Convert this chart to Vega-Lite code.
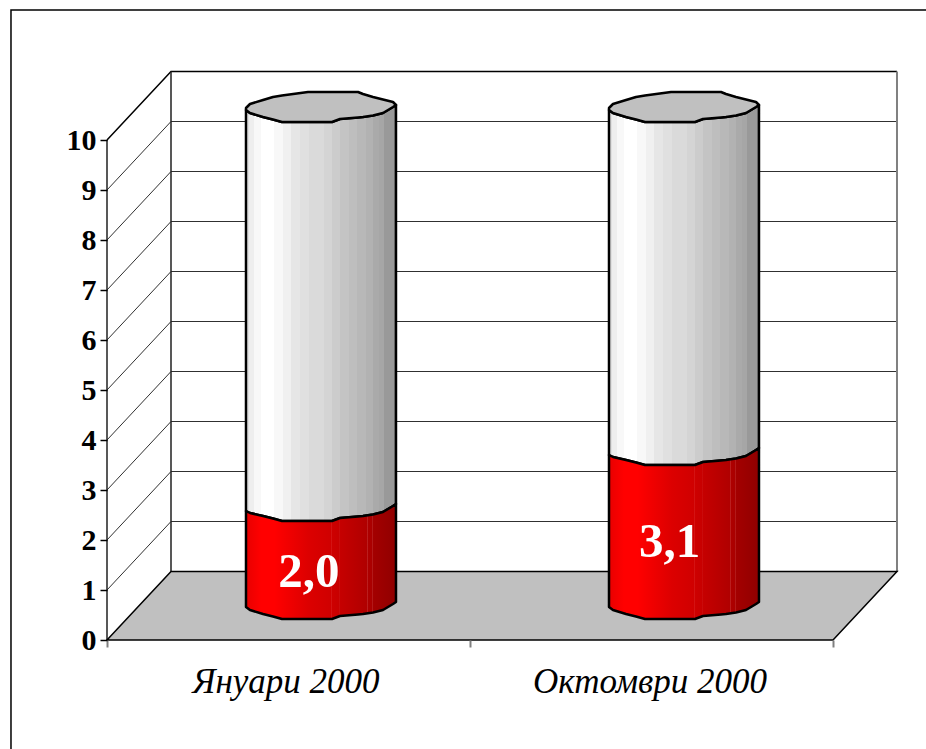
{"$schema":"https://vega.github.io/schema/vega-lite/v6.json","width":926,"height":749,"padding":0,"autosize":{"type":"none"},"background":"white","config":{"view":{"stroke":null}},
"datasets":{
"frame":[{"x":-0.2645,"y":-2.18},{"x":-0.2645,"y":12.6},{"x":2.2562,"y":12.6}],
"grid":[
{"k":1,"x":0,"y":1},{"k":1,"x":0.1763,"y":2.37},{"k":1,"x":2.1763,"y":2.37},
{"k":2,"x":0,"y":2},{"k":2,"x":0.1763,"y":3.37},{"k":2,"x":2.1763,"y":3.37},
{"k":3,"x":0,"y":3},{"k":3,"x":0.1763,"y":4.37},{"k":3,"x":2.1763,"y":4.37},
{"k":4,"x":0,"y":4},{"k":4,"x":0.1763,"y":5.37},{"k":4,"x":2.1763,"y":5.37},
{"k":5,"x":0,"y":5},{"k":5,"x":0.1763,"y":6.37},{"k":5,"x":2.1763,"y":6.37},
{"k":6,"x":0,"y":6},{"k":6,"x":0.1763,"y":7.37},{"k":6,"x":2.1763,"y":7.37},
{"k":7,"x":0,"y":7},{"k":7,"x":0.1763,"y":8.37},{"k":7,"x":2.1763,"y":8.37},
{"k":8,"x":0,"y":8},{"k":8,"x":0.1763,"y":9.37},{"k":8,"x":2.1763,"y":9.37},
{"k":9,"x":0,"y":9},{"k":9,"x":0.1763,"y":10.37},{"k":9,"x":2.1763,"y":10.37}],
"top":[{"x":0,"y":10},{"x":0.1763,"y":11.37},{"x":2.1763,"y":11.37}],
"verts":[{"k":"l","x":0,"y":0},{"k":"l","x":0,"y":10},{"k":"b","x":0.1763,"y":1.37},{"k":"b","x":0.1763,"y":11.37}],
"right":[{"x":2.1763,"y":1.37},{"x":2.1763,"y":11.37}],
"floor":[{"x":0,"y":0,"y2":0},{"x":0.1763,"y":1.37,"y2":0},{"x":2,"y":1.37,"y2":0},{"x":2.1763,"y":1.37,"y2":1.37}],
"red":[
{"c":"A","x":0.3829,"y":2.58,"y2":0.66},{"c":"A","x":0.3939,"y":2.54,"y2":0.6},{"c":"A","x":0.4298,"y":2.48,"y2":0.52},{"c":"A","x":0.4573,"y":2.43,"y2":0.47},{"c":"A","x":0.4821,"y":2.38,"y2":0.42},{"c":"A","x":0.5537,"y":2.38,"y2":0.42},{"c":"A","x":0.6198,"y":2.38,"y2":0.42},{"c":"A","x":0.6419,"y":2.44,"y2":0.48},{"c":"A","x":0.6915,"y":2.47,"y2":0.51},{"c":"A","x":0.7052,"y":2.48,"y2":0.52},{"c":"A","x":0.7328,"y":2.51,"y2":0.55},{"c":"A","x":0.7603,"y":2.56,"y2":0.6},{"c":"A","x":0.7879,"y":2.68,"y2":0.72},{"c":"A","x":0.7961,"y":2.72,"y2":0.76},
{"c":"B","x":1.3829,"y":3.7,"y2":0.66},{"c":"B","x":1.3939,"y":3.66,"y2":0.6},{"c":"B","x":1.4298,"y":3.6,"y2":0.52},{"c":"B","x":1.4573,"y":3.55,"y2":0.47},{"c":"B","x":1.4821,"y":3.5,"y2":0.42},{"c":"B","x":1.5537,"y":3.5,"y2":0.42},{"c":"B","x":1.6198,"y":3.5,"y2":0.42},{"c":"B","x":1.6419,"y":3.56,"y2":0.48},{"c":"B","x":1.6915,"y":3.59,"y2":0.51},{"c":"B","x":1.7052,"y":3.6,"y2":0.52},{"c":"B","x":1.7328,"y":3.63,"y2":0.55},{"c":"B","x":1.7603,"y":3.68,"y2":0.6},{"c":"B","x":1.7879,"y":3.8,"y2":0.72},{"c":"B","x":1.7961,"y":3.84,"y2":0.76}],
"white":[
{"c":"A","x":0.3829,"y":10.6,"y2":2.58},{"c":"A","x":0.3939,"y":10.54,"y2":2.54},{"c":"A","x":0.4298,"y":10.46,"y2":2.48},{"c":"A","x":0.4573,"y":10.41,"y2":2.43},{"c":"A","x":0.4821,"y":10.36,"y2":2.38},{"c":"A","x":0.5537,"y":10.36,"y2":2.38},{"c":"A","x":0.6198,"y":10.36,"y2":2.38},{"c":"A","x":0.6419,"y":10.42,"y2":2.44},{"c":"A","x":0.6915,"y":10.45,"y2":2.47},{"c":"A","x":0.7052,"y":10.46,"y2":2.48},{"c":"A","x":0.7328,"y":10.49,"y2":2.51},{"c":"A","x":0.7603,"y":10.54,"y2":2.56},{"c":"A","x":0.7879,"y":10.66,"y2":2.68},{"c":"A","x":0.7961,"y":10.7,"y2":2.72},
{"c":"B","x":1.3829,"y":10.6,"y2":3.7},{"c":"B","x":1.3939,"y":10.54,"y2":3.66},{"c":"B","x":1.4298,"y":10.46,"y2":3.6},{"c":"B","x":1.4573,"y":10.41,"y2":3.55},{"c":"B","x":1.4821,"y":10.36,"y2":3.5},{"c":"B","x":1.5537,"y":10.36,"y2":3.5},{"c":"B","x":1.6198,"y":10.36,"y2":3.5},{"c":"B","x":1.6419,"y":10.42,"y2":3.56},{"c":"B","x":1.6915,"y":10.45,"y2":3.59},{"c":"B","x":1.7052,"y":10.46,"y2":3.6},{"c":"B","x":1.7328,"y":10.49,"y2":3.63},{"c":"B","x":1.7603,"y":10.54,"y2":3.68},{"c":"B","x":1.7879,"y":10.66,"y2":3.8},{"c":"B","x":1.7961,"y":10.7,"y2":3.84}],
"cap":[
{"c":"A","x":0.3829,"y":10.64,"y2":10.6},{"c":"A","x":0.3939,"y":10.72,"y2":10.54},{"c":"A","x":0.4298,"y":10.8,"y2":10.46},{"c":"A","x":0.4573,"y":10.86,"y2":10.41},{"c":"A","x":0.4821,"y":10.89,"y2":10.36},{"c":"A","x":0.5537,"y":10.96,"y2":10.36},{"c":"A","x":0.6198,"y":10.96,"y2":10.36},{"c":"A","x":0.6419,"y":10.96,"y2":10.42},{"c":"A","x":0.6915,"y":10.96,"y2":10.45},{"c":"A","x":0.7052,"y":10.92,"y2":10.46},{"c":"A","x":0.7328,"y":10.86,"y2":10.49},{"c":"A","x":0.7603,"y":10.81,"y2":10.54},{"c":"A","x":0.7879,"y":10.76,"y2":10.66},{"c":"A","x":0.7961,"y":10.7,"y2":10.7},
{"c":"B","x":1.3829,"y":10.64,"y2":10.6},{"c":"B","x":1.3939,"y":10.72,"y2":10.54},{"c":"B","x":1.4298,"y":10.8,"y2":10.46},{"c":"B","x":1.4573,"y":10.86,"y2":10.41},{"c":"B","x":1.4821,"y":10.89,"y2":10.36},{"c":"B","x":1.5537,"y":10.96,"y2":10.36},{"c":"B","x":1.6198,"y":10.96,"y2":10.36},{"c":"B","x":1.6419,"y":10.96,"y2":10.42},{"c":"B","x":1.6915,"y":10.96,"y2":10.45},{"c":"B","x":1.7052,"y":10.92,"y2":10.46},{"c":"B","x":1.7328,"y":10.86,"y2":10.49},{"c":"B","x":1.7603,"y":10.81,"y2":10.54},{"c":"B","x":1.7879,"y":10.76,"y2":10.66},{"c":"B","x":1.7961,"y":10.7,"y2":10.7}],
"values":[{"label":"2,0","x":0.556,"y":1.36},{"label":"3,1","x":1.55,"y":1.96}],
"cats":[{"label":"Януари 2000","x":0.493,"y":-0.84},{"label":"Октомври 2000","x":1.496,"y":-0.84}]
},
"encoding":{
"x":{"field":"x","type":"quantitative","scale":{"domain":[-0.29477,2.2562],"nice":false,"zero":false},"axis":{"title":null,"values":[0,1,2],"labels":false,"grid":false,"domain":false,"offset":-109,"tickSize":7,"tickColor":"#808080","tickWidth":2,"orient":"bottom","zindex":1}},
"y":{"field":"y","type":"quantitative","scale":{"domain":[-2.18,12.8],"nice":false,"zero":false},"axis":{"title":null,"values":[0,1,2,3,4,5,6,7,8,9,10],"format":"d","grid":false,"domain":false,"offset":-107,"tickSize":7,"tickColor":"#000000","tickWidth":1.5,"labelFont":"Liberation Serif","labelFontSize":30,"labelFontWeight":"bold","labelColor":"#000000","labelPadding":4,"labelOverlap":false,"zindex":1}}
},
"layer":[
{"data":{"name":"frame"},"mark":{"type":"line","stroke":"#000000","strokeWidth":1.5}},
{"data":{"name":"grid"},"mark":{"type":"line","stroke":"#303030","strokeWidth":1},"encoding":{"detail":{"field":"k"}}},
{"data":{"name":"top"},"mark":{"type":"line","stroke":"#000000","strokeWidth":1.5}},
{"data":{"name":"verts"},"mark":{"type":"line","stroke":"#202020","strokeWidth":1.5},"encoding":{"detail":{"field":"k"}}},
{"data":{"name":"right"},"mark":{"type":"line","stroke":"#808080","strokeWidth":2}},
{"data":{"name":"floor"},"mark":{"type":"area","fill":"#c0c0c0","stroke":"#000000","strokeWidth":1.5},"encoding":{"y2":{"field":"y2"}}},
{"data":{"name":"white"},"mark":{"type":"area","stroke":"#000000","strokeWidth":2.5,"strokeJoin":"round","fill":{"gradient":"linear","x1":0,"x2":1,"y1":0,"y2":0,"stops":[{"offset":0,"color":"#e0e0e0"},{"offset":0.018,"color":"#e0e0e0"},{"offset":0.018,"color":"#eeeeee"},{"offset":0.051,"color":"#eeeeee"},{"offset":0.051,"color":"#f8f8f8"},{"offset":0.1,"color":"#f8f8f8"},{"offset":0.1,"color":"#ffffff"},{"offset":0.19,"color":"#ffffff"},{"offset":0.19,"color":"#f8f8f8"},{"offset":0.245,"color":"#f8f8f8"},{"offset":0.245,"color":"#f0f0f0"},{"offset":0.3,"color":"#f0f0f0"},{"offset":0.3,"color":"#e6e6e6"},{"offset":0.36,"color":"#e6e6e6"},{"offset":0.36,"color":"#e0e0e0"},{"offset":0.42,"color":"#e0e0e0"},{"offset":0.42,"color":"#dadada"},{"offset":0.52,"color":"#dadada"},{"offset":0.52,"color":"#d4d4d4"},{"offset":0.576,"color":"#d4d4d4"},{"offset":0.576,"color":"#cccccc"},{"offset":0.63,"color":"#cccccc"},{"offset":0.63,"color":"#c4c4c4"},{"offset":0.69,"color":"#c4c4c4"},{"offset":0.69,"color":"#bebebe"},{"offset":0.743,"color":"#bebebe"},{"offset":0.743,"color":"#b8b8b8"},{"offset":0.8,"color":"#b8b8b8"},{"offset":0.8,"color":"#b2b2b2"},{"offset":0.844,"color":"#b2b2b2"},{"offset":0.844,"color":"#aaaaaa"},{"offset":0.888,"color":"#aaaaaa"},{"offset":0.888,"color":"#a6a6a6"},{"offset":0.922,"color":"#a6a6a6"},{"offset":0.922,"color":"#999999"},{"offset":0.984,"color":"#999999"},{"offset":0.984,"color":"#888888"},{"offset":1,"color":"#888888"}]}},"encoding":{"detail":{"field":"c"},"y2":{"field":"y2"}}},
{"data":{"name":"red"},"mark":{"type":"area","stroke":"#000000","strokeWidth":2.5,"strokeJoin":"round","fill":{"gradient":"linear","x1":0,"x2":1,"y1":0,"y2":0,"stops":[{"offset":0,"color":"#e80000"},{"offset":0.1,"color":"#ff0000"},{"offset":0.19,"color":"#ff0000"},{"offset":0.42,"color":"#dc0000"},{"offset":0.564,"color":"#d00000"},{"offset":0.567,"color":"#e85050"},{"offset":0.571,"color":"#ce0000"},{"offset":0.617,"color":"#c80000"},{"offset":0.62,"color":"#e04848"},{"offset":0.624,"color":"#c60000"},{"offset":0.805,"color":"#b00000"},{"offset":0.808,"color":"#c84040"},{"offset":0.812,"color":"#ae0000"},{"offset":0.838,"color":"#aa0000"},{"offset":0.841,"color":"#c84040"},{"offset":0.845,"color":"#a40000"},{"offset":1,"color":"#900000"}]}},"encoding":{"detail":{"field":"c"},"y2":{"field":"y2"}}},
{"data":{"name":"cap"},"mark":{"type":"area","fill":"#c0c0c0","stroke":"#000000","strokeWidth":2.5,"strokeJoin":"round"},"encoding":{"detail":{"field":"c"},"y2":{"field":"y2"}}},
{"data":{"name":"values"},"mark":{"type":"text","font":"Liberation Serif","fontSize":49,"fontWeight":"bold","fill":"#ffffff","align":"center","baseline":"middle"},"encoding":{"text":{"field":"label"}}},
{"data":{"name":"cats"},"mark":{"type":"text","font":"Liberation Serif","fontSize":35,"fontStyle":"italic","fill":"#000000","align":"center","baseline":"middle"},"encoding":{"text":{"field":"label"}}}
]}
